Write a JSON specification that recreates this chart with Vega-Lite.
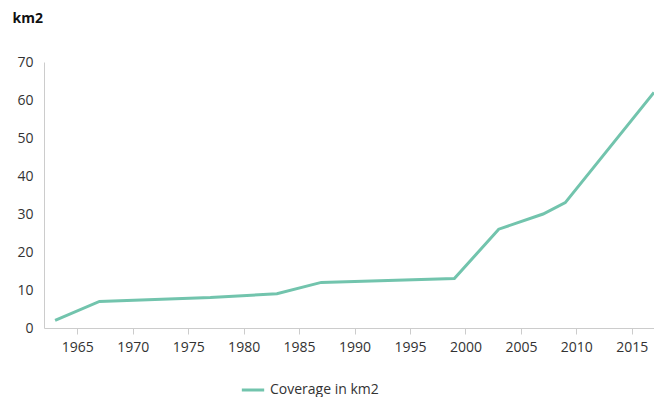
{
  "$schema": "https://vega.github.io/schema/vega-lite/v6.json",
  "autosize": "none",
  "width": 610,
  "height": 266,
  "padding": {"left": 44, "top": 62, "right": 0, "bottom": 69},
  "background": "white",
  "config": {"view": {"stroke": null}, "font": "Open Sans"},
  "data": {
    "values": [
      {"year": 1963, "value": 2, "series": "Coverage in km2"},
      {"year": 1967, "value": 7, "series": "Coverage in km2"},
      {"year": 1977, "value": 8, "series": "Coverage in km2"},
      {"year": 1983, "value": 9, "series": "Coverage in km2"},
      {"year": 1987, "value": 12, "series": "Coverage in km2"},
      {"year": 1999, "value": 13, "series": "Coverage in km2"},
      {"year": 2003, "value": 26, "series": "Coverage in km2"},
      {"year": 2007, "value": 30, "series": "Coverage in km2"},
      {"year": 2009, "value": 33, "series": "Coverage in km2"},
      {"year": 2017, "value": 62, "series": "Coverage in km2"}
    ]
  },
  "mark": {"type": "line", "strokeWidth": 3, "clip": true},
  "encoding": {
    "x": {
      "field": "year",
      "type": "quantitative",
      "scale": {"domain": [1962, 2017], "nice": false, "zero": false},
      "axis": {
        "values": [1965, 1970, 1975, 1980, 1985, 1990, 1995, 2000, 2005, 2010, 2015],
        "format": "d",
        "title": null,
        "grid": false,
        "domainColor": "#cccccc",
        "tickColor": "#cccccc",
        "tickSize": 6,
        "labelFontSize": 14,
        "labelColor": "#333333",
        "labelPadding": 6
      }
    },
    "y": {
      "field": "value",
      "type": "quantitative",
      "scale": {"domain": [0, 70], "nice": false},
      "axis": {
        "values": [0, 10, 20, 30, 40, 50, 60, 70],
        "title": "km2",
        "titleAngle": 0,
        "titleX": -32,
        "titleY": -44,
        "titleAlign": "left",
        "titleBaseline": "middle",
        "titleFontSize": 14,
        "titleFontWeight": "bold",
        "titleColor": "#111111",
        "grid": false,
        "ticks": false,
        "domainColor": "#cccccc",
        "labelFontSize": 14,
        "labelColor": "#333333",
        "labelPadding": 11
      }
    },
    "color": {
      "field": "series",
      "type": "nominal",
      "scale": {"range": ["#72c4ad"]},
      "legend": {
        "title": null,
        "orient": "none",
        "legendX": 196,
        "legendY": 315,
        "symbolType": "stroke",
        "symbolStrokeWidth": 3,
        "symbolSize": 500,
        "labelFontSize": 14,
        "labelColor": "#333333",
        "labelOffset": 4
      }
    }
  }
}
